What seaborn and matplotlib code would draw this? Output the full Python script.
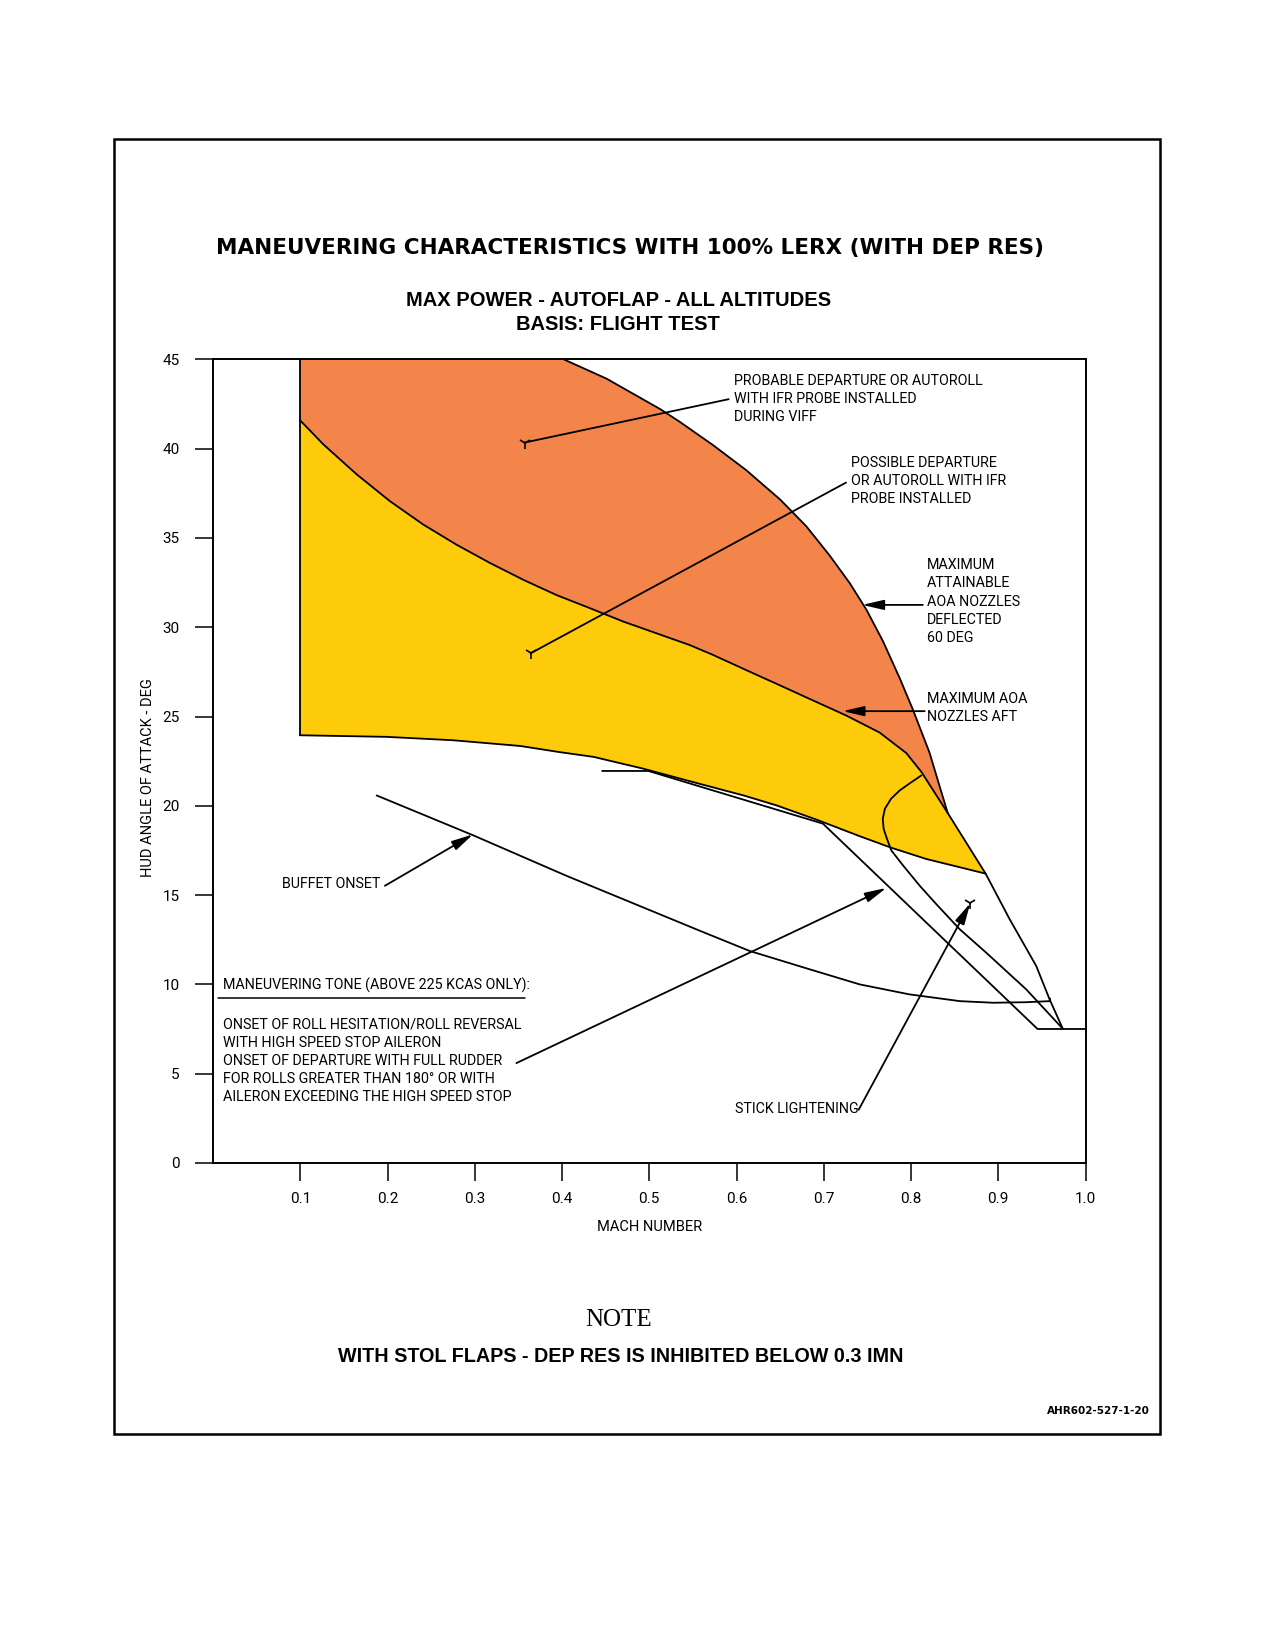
import matplotlib
matplotlib.use("Agg")
import matplotlib.pyplot as plt
from matplotlib.patches import Rectangle
from matplotlib.lines import Line2D
import seaborn as sns

# values: Mach number vs HUD angle of attack (deg)

# max attainable AOA, nozzles deflected 60 deg (continues down to the stall corner)
n60_mach = [0.402, 0.451, 0.513, 0.535, 0.573, 0.611, 0.650, 0.680, 0.707, 0.730,
            0.749, 0.768, 0.787, 0.802, 0.821, 0.842, 0.8855, 0.913, 0.9435, 0.9588,
            0.974]
n60_aoa = [45.0, 43.92, 42.2, 41.5, 40.2, 38.8, 37.15, 35.65, 34.0, 32.45,
           30.97, 29.2, 27.15, 25.4, 23.0, 19.6, 16.2, 13.65, 11.03, 9.16,
           7.51]

# max AOA, nozzles aft
aft_mach = [0.0995, 0.1264, 0.1646, 0.2027, 0.2409, 0.2791, 0.3173, 0.3554, 0.3937,
            0.4318, 0.470, 0.5082, 0.5464, 0.573, 0.611, 0.6495, 0.6876, 0.7259,
            0.764, 0.7946, 0.8118, 0.842]
aft_aoa = [41.6, 40.24, 38.56, 37.06, 35.75, 34.62, 33.6, 32.66, 31.8,
           31.07, 30.32, 29.66, 29.0, 28.45, 27.6, 26.75, 25.9, 25.05,
           24.1, 22.95, 21.9, 19.6]

# lower edge of the yellow band
low_mach = [0.0995, 0.199, 0.275, 0.352, 0.398, 0.436, 0.493, 0.550, 0.608, 0.646,
            0.693, 0.741, 0.7774, 0.8175, 0.8557, 0.8855]
low_aoa = [23.95, 23.86, 23.67, 23.35, 23.0, 22.74, 22.08, 21.33, 20.58, 20.02,
           19.2, 18.3, 17.65, 17.02, 16.56, 16.2]

# maneuvering tone line
tone_mach = [0.446, 0.499, 0.699, 0.945, 1.0]
tone_aoa = [21.95, 21.95, 19.0, 7.5, 7.5]

# stick lightening boundary
stick_mach = [0.8118, 0.798, 0.787, 0.777, 0.770, 0.7676, 0.7686, 0.7724, 0.7774,
              0.791, 0.810, 0.829, 0.8557, 0.886, 0.932, 0.974]
stick_aoa = [21.7, 21.24, 20.86, 20.39, 19.83, 19.27, 18.71, 18.15, 17.5,
             16.65, 15.52, 14.49, 13.09, 11.78, 9.72, 7.51]

# buffet onset
buffet_mach = [0.1875, 0.298, 0.405, 0.558, 0.615, 0.684, 0.741, 0.798, 0.856,
               0.894, 0.932, 0.959, 0.9595]
buffet_aoa = [20.58, 18.35, 16.08, 13.0, 11.87, 10.84, 10.0, 9.44, 9.06,
              8.97, 9.0, 9.06, 9.2]

x_ticks = [0.1, 0.2, 0.3, 0.4, 0.5, 0.6, 0.7, 0.8, 0.9, 1.0]
x_labels = ["0.1", "0.2", "0.3", "0.4", "0.5", "0.6", "0.7", "0.8", "0.9", "1.0"]
y_ticks = [0, 5, 10, 15, 20, 25, 30, 35, 40, 45]

TIP = 15  # index in n60 where the two max-AOA curves meet

# leader lines: (mach, aoa) at the label end and at the curve end
probable_from, probable_to = (0.591, 42.77), (0.357, 40.34)
possible_from, possible_to = (0.7255, 38.1), (0.364, 28.54)
n60_from, n60_to = (0.8135, 31.25), (0.744, 31.25)
aft_from, aft_to = (0.8156, 25.3), (0.7215, 25.3)
buffet_from, buffet_to = (0.197, 15.52), (0.298, 18.4)
tone_from, tone_to = (0.3477, 5.59), (0.7717, 15.4)
stick_from, stick_to = (0.740, 2.98), (0.868, 14.55)

ORANGE = "#F4854A"
YELLOW = "#FDCB0A"

sns.set_theme(style="white")
plt.rcParams["font.family"] = ["Roboto", "DejaVu Sans"]
plt.rcParams["axes.edgecolor"] = "black"

fig = plt.figure(figsize=(12.75, 16.5), dpi=100)
ax = fig.add_axes([0.1671, 0.2952, 0.6843, 0.4870])

# shaded regions
ax.fill(aft_mach + n60_mach[TIP::-1] + [aft_mach[0]],
        aft_aoa + n60_aoa[TIP::-1] + [n60_aoa[0]],
        color=ORANGE, lw=0, zorder=1)
ax.fill(aft_mach + low_mach[::-1], aft_aoa + low_aoa[::-1],
        color=YELLOW, lw=0, zorder=1)

curves = [
    (n60_mach, n60_aoa),
    (aft_mach, aft_aoa),
    (low_mach, low_aoa),
    ([aft_mach[0], aft_mach[0]], [low_aoa[0], n60_aoa[0]]),
    (tone_mach, tone_aoa),
    (stick_mach, stick_aoa),
    (buffet_mach, buffet_aoa),
]
for xs, ys in curves:
    sns.lineplot(x=xs, y=ys, sort=False, estimator=None, color="black",
                 lw=1.3, ax=ax, legend=False, zorder=3)

arrow = dict(arrowstyle="-|>,head_length=1.3,head_width=0.3", mutation_scale=10,
             color="black", lw=1.3, shrinkA=0, shrinkB=0)
plain = dict(arrowstyle="-", color="black", lw=1.3, shrinkA=0, shrinkB=0)

for start, end, props in [
    (probable_from, probable_to, plain),
    (possible_from, possible_to, plain),
    (n60_from, n60_to, arrow),
    (aft_from, aft_to, arrow),
    (buffet_from, buffet_to, arrow),
    (tone_from, tone_to, arrow),
    (stick_from, stick_to, arrow),
]:
    ax.annotate("", xy=end, xytext=start, arrowprops=props, zorder=4)

for pt in [probable_to, possible_to, stick_to]:
    ax.plot(pt[0], pt[1], marker="1", ms=9, mew=1.2, color="black", zorder=4)

# labels
txt = dict(fontsize=10.3, color="black", linespacing=1.38, va="center")
ax.text(0.5975, 42.77, "PROBABLE DEPARTURE OR AUTOROLL\nWITH IFR PROBE INSTALLED\nDURING VIFF",
        ha="left", **txt)
ax.text(0.7308, 38.19, "POSSIBLE DEPARTURE\nOR AUTOROLL WITH IFR\nPROBE INSTALLED",
        ha="left", **txt)
ax.text(0.8184, 31.44, "MAXIMUM\nATTAINABLE\nAOA NOZZLES\nDEFLECTED\n60 DEG",
        ha="left", **txt)
ax.text(0.8184, 25.48, "MAXIMUM AOA\nNOZZLES AFT", ha="left", **txt)
ax.text(0.1913, 15.62, "BUFFET ONSET", ha="right", **txt)
ax.text(0.5987, 3.04, "STICK LIGHTENING", ha="left", **txt)
ax.text(0.011, 9.94, "MANEUVERING TONE (ABOVE 225 KCAS ONLY):", ha="left", **txt)
ax.text(0.011, 5.7,
        "ONSET OF ROLL HESITATION/ROLL REVERSAL\nWITH HIGH SPEED STOP AILERON\n"
        "ONSET OF DEPARTURE WITH FULL RUDDER\nFOR ROLLS GREATER THAN 180\u00b0 OR WITH\n"
        "AILERON EXCEEDING THE HIGH SPEED STOP",
        ha="left", **txt)
fig.add_artist(Line2D([0.171, 0.412], [0.395, 0.395], transform=fig.transFigure,
                      color="black", lw=1.1))

# axes
ax.set_xlim(0, 1.0)
ax.set_ylim(0, 45)
ax.set_xticks(x_ticks)
ax.set_xticklabels(x_labels)
ax.set_yticks(y_ticks)
ax.tick_params(axis="both", which="major", direction="out", length=13, width=1.1,
               colors="black", labelsize=11, bottom=True, left=True)
ax.tick_params(axis="x", pad=8)
ax.tick_params(axis="y", pad=11)
for s in ax.spines.values():
    s.set_linewidth(1.4)
    s.set_color("black")
ax.grid(False)
ax.set_xlabel("MACH NUMBER", fontsize=10.5, labelpad=10, color="black")
ax.set_ylabel("HUD ANGLE OF ATTACK - DEG", fontsize=10.5, color="black")
ax.yaxis.set_label_coords(-0.066, 0.48)

# titles and notes
fig.text(0.494, 1 - 248 / 1650, "MANEUVERING CHARACTERISTICS WITH 100% LERX (WITH DEP RES)",
         ha="center", va="center", fontsize=15.5, fontweight="bold", family="DejaVu Sans",
         color="black")
fig.text(0.485, 1 - 300 / 1650, "MAX POWER - AUTOFLAP - ALL ALTITUDES",
         ha="center", va="center", fontsize=14.5, fontweight="bold", family="Liberation Sans",
         color="black")
fig.text(0.485, 1 - 325 / 1650, "BASIS: FLIGHT TEST",
         ha="center", va="center", fontsize=14.5, fontweight="bold", family="Liberation Sans",
         color="black")
fig.text(0.485, 1 - 1320 / 1650, "NOTE", ha="center", va="center",
         fontsize=18, family="Liberation Serif", color="black")
fig.text(0.487, 1 - 1356 / 1650, "WITH STOL FLAPS - DEP RES IS INHIBITED BELOW 0.3 IMN",
         ha="center", va="center", fontsize=14.2, fontweight="bold", family="Liberation Sans",
         color="black")
fig.text(0.902, 1 - 1411 / 1650, "AHR602-527-1-20", ha="right", va="center",
         fontsize=7.5, fontweight="bold", family="DejaVu Sans", color="black")

fig.add_artist(Rectangle((0.0894, 0.1309), 0.8204, 0.7849, transform=fig.transFigure,
                         fill=False, lw=1.8, ec="black"))

fig.savefig("out.png", dpi=100, facecolor="white")
plt.close(fig)
